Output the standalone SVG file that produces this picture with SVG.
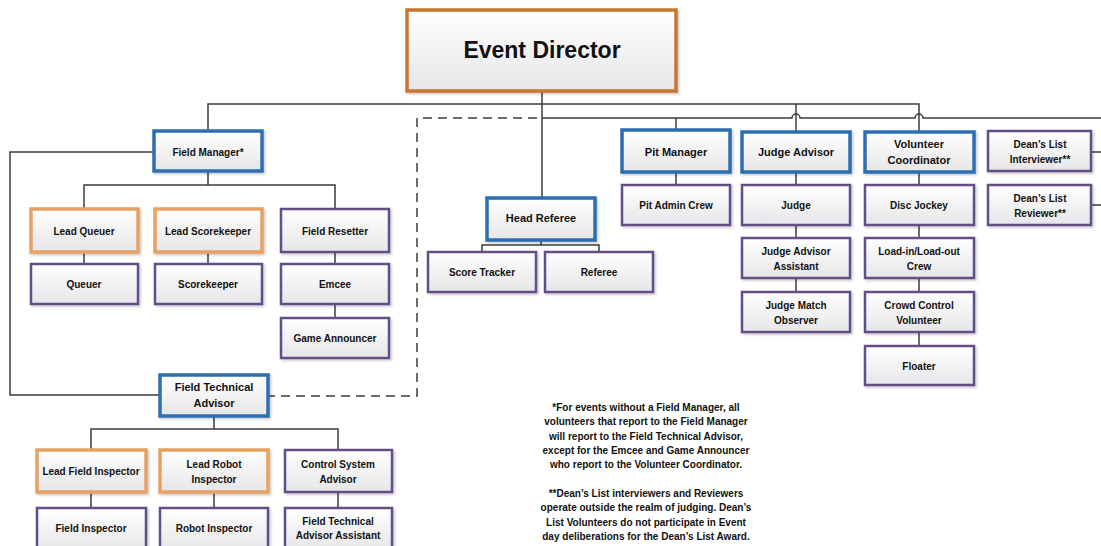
<svg xmlns="http://www.w3.org/2000/svg" width="1101" height="546" viewBox="0 0 1101 546">
<defs>
<linearGradient id="g" x1="0" y1="0" x2="0" y2="1"><stop offset="0" stop-color="#ffffff"/><stop offset="1" stop-color="#e6e6e8"/></linearGradient>
<filter id="sh" x="-10%" y="-10%" width="130%" height="140%"><feDropShadow dx="1.5" dy="1.5" stdDeviation="1" flood-color="#000" flood-opacity="0.22"/></filter>
</defs>
<style>
rect{fill:url(#g);filter:url(#sh)}
.b{stroke:#2b6faf;stroke-width:3.5}
.o{stroke:#e6a164;stroke-width:3.5}
.p{stroke:#634f86;stroke-width:2.5}
.ed{stroke:#c9762e;stroke-width:3.5}
text{font-family:"Liberation Sans",Arial,sans-serif;font-weight:bold;font-size:10px;fill:#111;text-anchor:middle;dominant-baseline:central}
.c path,.c line{fill:none;stroke:#3c3c3c;stroke-width:1.5}
.d{stroke-dasharray:9,6}
.n text{font-size:10px}
</style>
<rect width="1101" height="546" style="fill:#fff;filter:none"/>
<g class="c" id="connectors">
<path d="M542,91 V198"/>
<path d="M208,131 V104 H919 V132"/>
<path d="M796,104 V132"/>
<path d="M542,118 H792 a4,4 0 0 1 8,0 H915 a4,4 0 0 1 8,0 H1101"/>
<path d="M676,118 V130"/>
<path class="d" d="M537,118 H417 V396 H268"/>
<path d="M154,152 H10 V395 H160"/>
<path d="M208,171 V185 M84,209 V185 H335 V209 M84,252 V264 M208,252 V264 M335,252 V264 M335,304 V318"/>
<path d="M541,240 V245 M482,252 V245 H599 V252"/>
<path d="M676,172 V185"/>
<path d="M796,172 V185 M796,225 V238 M796,278 V292"/>
<path d="M919,172 V185 M919,225 V238 M919,278 V292 M919,332 V346"/>
<path d="M1091,152 H1101 M1091,205 H1101"/>
<path d="M214,416 V429 M91,450 V429 H338 V450 M91,492 V508 M214,492 V508 M338,492 V508"/>
</g>
<g id="event-director"><rect class="ed" x="407" y="10" width="269" height="81"/><text x="542" y="50" style="font-size:23px">Event Director</text></g>
<g id="field-manager"><rect class="b" x="154" y="131" width="108" height="40"/><text x="208" y="152">Field Manager*</text></g>
<g id="lead-queuer"><rect class="o" x="31" y="209" width="107" height="43"/><text x="84" y="231">Lead Queuer</text></g>
<g id="lead-scorekeeper"><rect class="o" x="155" y="209" width="107" height="43"/><text x="208" y="231">Lead Scorekeeper</text></g>
<g id="field-resetter"><rect class="p" x="281" y="209" width="108" height="43"/><text x="335" y="231">Field Resetter</text></g>
<g id="queuer"><rect class="p" x="31" y="264" width="107" height="40"/><text x="84" y="284">Queuer</text></g>
<g id="scorekeeper"><rect class="p" x="155" y="264" width="107" height="40"/><text x="208" y="284">Scorekeeper</text></g>
<g id="emcee"><rect class="p" x="281" y="264" width="108" height="40"/><text x="335" y="284">Emcee</text></g>
<g id="game-announcer"><rect class="p" x="281" y="318" width="108" height="40"/><text x="335" y="338">Game Announcer</text></g>
<g id="head-referee"><rect class="b" x="487" y="198" width="108" height="42"/><text x="541" y="218" style="font-size:11px">Head Referee</text></g>
<g id="score-tracker"><rect class="p" x="428" y="252" width="108" height="40"/><text x="482" y="272">Score Tracker</text></g>
<g id="referee"><rect class="p" x="545" y="252" width="108" height="40"/><text x="599" y="272">Referee</text></g>
<g id="pit-manager"><rect class="b" x="622" y="130" width="108" height="42"/><text x="676" y="152" style="font-size:11px">Pit Manager</text></g>
<g id="pit-admin-crew"><rect class="p" x="622" y="185" width="108" height="40"/><text x="676" y="205">Pit Admin Crew</text></g>
<g id="judge-advisor"><rect class="b" x="742" y="132" width="108" height="40"/><text x="796" y="152" style="font-size:11px">Judge Advisor</text></g>
<g id="judge"><rect class="p" x="742" y="185" width="108" height="40"/><text x="796" y="205">Judge</text></g>
<g id="judge-advisor-assistant"><rect class="p" x="742" y="238" width="108" height="40"/><text x="796" y="251">Judge Advisor</text><text x="796" y="266">Assistant</text></g>
<g id="judge-match-observer"><rect class="p" x="742" y="292" width="108" height="40"/><text x="796" y="305">Judge Match</text><text x="796" y="320">Observer</text></g>
<g id="volunteer-coordinator"><rect class="b" x="865" y="132" width="109" height="40"/><text x="919" y="144" style="font-size:11px">Volunteer</text><text x="919" y="160" style="font-size:11px">Coordinator</text></g>
<g id="disc-jockey"><rect class="p" x="865" y="185" width="109" height="40"/><text x="919" y="205">Disc Jockey</text></g>
<g id="load-in-crew"><rect class="p" x="865" y="238" width="109" height="40"/><text x="919" y="251">Load-in/Load-out</text><text x="919" y="266">Crew</text></g>
<g id="crowd-control"><rect class="p" x="865" y="292" width="109" height="40"/><text x="919" y="305">Crowd Control</text><text x="919" y="320">Volunteer</text></g>
<g id="floater"><rect class="p" x="865" y="346" width="109" height="39"/><text x="919" y="366">Floater</text></g>
<g id="deans-list-interviewer"><rect class="p" x="988" y="131" width="103" height="40"/><text x="1040" y="144">Dean’s List</text><text x="1040" y="159">Interviewer**</text></g>
<g id="deans-list-reviewer"><rect class="p" x="988" y="185" width="103" height="40"/><text x="1040" y="198">Dean’s List</text><text x="1040" y="213">Reviewer**</text></g>
<g id="field-technical-advisor"><rect class="b" x="160" y="375" width="108" height="41"/><text x="214" y="387" style="font-size:11px">Field Technical</text><text x="214" y="403" style="font-size:11px">Advisor</text></g>
<g id="lead-field-inspector"><rect class="o" x="37" y="450" width="109" height="42"/><text x="91" y="471">Lead Field Inspector</text></g>
<g id="lead-robot-inspector"><rect class="o" x="160" y="450" width="108" height="42"/><text x="214" y="464">Lead Robot</text><text x="214" y="479">Inspector</text></g>
<g id="control-system-advisor"><rect class="p" x="285" y="450" width="107" height="42"/><text x="338" y="464">Control System</text><text x="338" y="479">Advisor</text></g>
<g id="field-inspector"><rect class="p" x="37" y="508" width="109" height="42"/><text x="91" y="528">Field Inspector</text></g>
<g id="robot-inspector"><rect class="p" x="160" y="508" width="108" height="42"/><text x="214" y="528">Robot Inspector</text></g>
<g id="fta-assistant"><rect class="p" x="285" y="508" width="107" height="42"/><text x="338" y="521">Field Technical</text><text x="338" y="535">Advisor Assistant</text></g>
<g class="n" id="notes">
<text x="646" y="407">*For events without a Field Manager, all</text>
<text x="646" y="421">volunteers that report to the Field Manager</text>
<text x="646" y="436">will report to the Field Technical Advisor,</text>
<text x="646" y="450">except for the Emcee and Game Announcer</text>
<text x="646" y="464">who report to the Volunteer Coordinator.</text>
<text x="646" y="493">**Dean’s List interviewers and Reviewers</text>
<text x="646" y="507">operate outside the realm of judging. Dean’s</text>
<text x="646" y="522">List Volunteers do not participate in Event</text>
<text x="646" y="536">day deliberations for the Dean’s List Award.</text>
</g>
</svg>
